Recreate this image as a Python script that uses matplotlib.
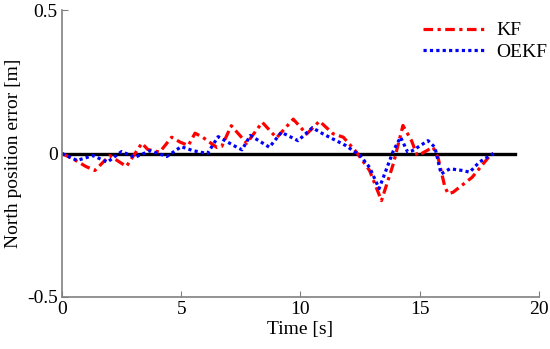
import matplotlib
matplotlib.use("Agg")
import matplotlib.pyplot as plt

# KF estimate error
t_kf = [0, 0.5, 1.0, 1.38, 2.0, 2.7, 3.35, 3.6, 4.1, 4.6, 4.95, 5.3, 5.58, 5.9, 6.5, 6.7,
        7.1, 7.75, 8.4, 9.0, 9.7, 10.26, 10.8, 11.37, 11.8, 12.35, 12.9, 13.4, 13.9, 14.3,
        14.66, 14.9, 15.08, 15.56, 15.77, 16.06, 16.2, 16.4, 17.2, 17.95, 18.1]
e_kf = [0, -0.02, -0.045, -0.059, -0.007, -0.045, 0.036, 0.014, 0.005, 0.057, 0.04, 0.028,
        0.071, 0.057, 0.021, 0.025, 0.097, 0.036, 0.109, 0.055, 0.12, 0.068, 0.113, 0.069,
        0.057, 0.005, -0.059, -0.164, -0.035, 0.098, 0.045, -0.007, 0, 0.022, -0.013,
        -0.117, -0.14, -0.135, -0.083, -0.007, 0]

# OEKF estimate error
t_oekf = [0, 0.63, 1.3, 1.9, 2.5, 3.06, 3.7, 4.4, 5.0, 5.5, 6.1, 6.55, 7.2, 7.55, 7.9, 8.7,
          9.2, 9.9, 10.5, 10.96, 11.9, 12.5, 12.9, 13.3, 13.9, 14.2, 14.5, 14.7, 15.35,
          15.64, 15.9, 16.27, 16.8, 17.1, 17.5, 17.95, 18.1]
e_oekf = [0, -0.024, -0.007, -0.03, 0.007, -0.013, 0.01, -0.01, 0.024, 0.01, 0, 0.059,
          0.028, 0.013, 0.063, 0.022, 0.074, 0.045, 0.09, 0.068, 0.028, -0.007, -0.048,
          -0.122, 0.01, 0.057, 0.005, 0.01, 0.045, 0.022, -0.071, -0.053, -0.059, -0.065,
          -0.03, -0.007, 0]

zero_t = [0, 19]
zero_e = [0, 0]

plt.rcParams['font.family'] = ['Liberation Serif', 'DejaVu Serif']
plt.rcParams['font.size'] = 14

fig = plt.figure(figsize=(5.5, 3.49), dpi=100)
ax = fig.add_axes([0.1127, 0.149, 0.867, 0.822])

ax.plot(zero_t, zero_e, color='black', lw=2.4)
ax.plot(t_kf, e_kf, color='#ff0000', lw=2.3, ls=(0, (3, 1.4, 1, 1.4)), label='KF')
ax.plot(t_oekf, e_oekf, color='#0000ff', lw=2.3, ls=(0, (1, 1)), label='OEKF')

ax.set_xlim(0, 20)
ax.set_ylim(-0.5, 0.5)
ax.set_xticks([0, 5, 10, 15, 20])
ax.set_yticks([-0.5, 0, 0.5])
ax.set_yticklabels(['-0.5', '0', '0.5'])
ax.tick_params(direction='in', length=4, color='#808080', pad=3)
ax.spines['top'].set_visible(False)
ax.spines['right'].set_visible(False)
for s in ['left', 'bottom']:
    ax.spines[s].set_color('#808080')
    ax.spines[s].set_linewidth(1.2)

ax.set_xlabel('Time [s]', labelpad=2)
ax.set_ylabel('North position error [m]', labelpad=4)
ax.legend(loc='upper right', bbox_to_anchor=(1.055, 1.02), frameon=False,
          handlelength=3.2, handletextpad=0.6, labelspacing=0.2, fontsize=14)

fig.savefig('out.png', dpi=100)
